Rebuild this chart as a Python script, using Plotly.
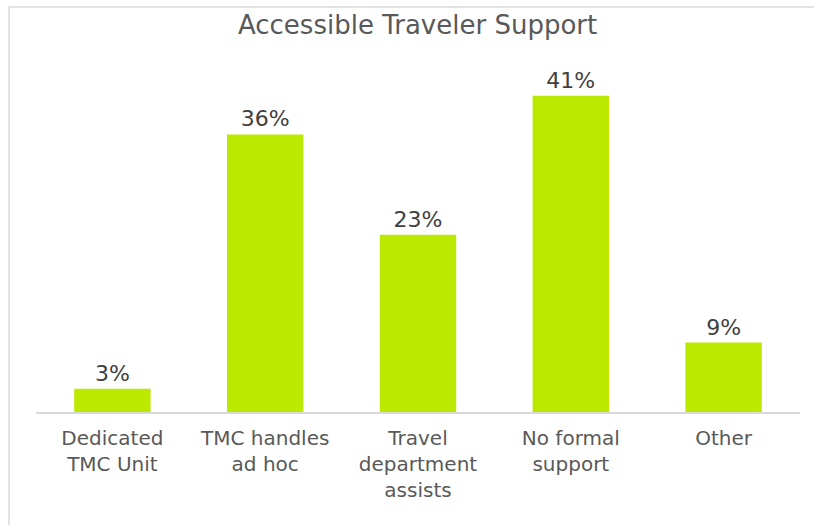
import plotly.graph_objects as go

# Survey responses: how organisations support accessible travelers
categories = [
    "Dedicated<br>TMC Unit",
    "TMC handles<br>ad hoc",
    "Travel<br>department<br>assists",
    "No formal<br>support",
    "Other",
]
shares = [3, 36, 23, 41, 9]
share_labels = [f"{v}%" for v in shares]

BAR_COLOR = "#BBEA00"
FONT = "DejaVu Sans"

fig = go.Figure(
    go.Bar(
        x=categories,
        y=shares,
        text=share_labels,
        textposition="outside",
        textfont=dict(family=FONT, size=22, color="#404040"),
        marker=dict(color=BAR_COLOR, line=dict(width=0)),
        width=0.5,
        cliponaxis=False,
        hoverinfo="skip",
    )
)

fig.update_layout(
    width=814,
    height=525,
    margin=dict(l=36, r=14, t=65, b=113),
    paper_bgcolor="white",
    plot_bgcolor="white",
    showlegend=False,
    title=dict(
        text="Accessible Traveler Support",
        font=dict(family=FONT, size=26, color="#595959"),
        x=0.513,
        xanchor="center",
        y=0.952,
        yanchor="middle",
    ),
    xaxis=dict(
        showline=True,
        linecolor="#D9D9D9",
        linewidth=2,
        ticks="",
        showgrid=False,
        ticklabelstandoff=7,
        tickfont=dict(family=FONT, size=20, color="#595959"),
    ),
    yaxis=dict(
        range=[0, 45],
        visible=False,
        showgrid=False,
        zeroline=False,
    ),
    # light frame on the top and left edges of the chart area
    shapes=[
        dict(type="line", xref="paper", yref="paper",
             x0=-0.0353, x1=1.02, y0=1.167, y1=1.167,
             line=dict(color="#D9D9D9", width=1.5)),
        dict(type="line", xref="paper", yref="paper",
             x0=-0.0353, x1=-0.0353, y0=1.167, y1=-0.35,
             line=dict(color="#D9D9D9", width=1.5)),
    ],
)

fig.write_html("out.html")
